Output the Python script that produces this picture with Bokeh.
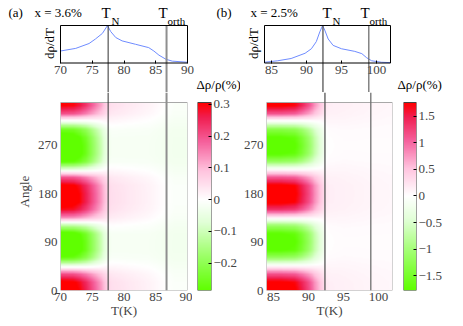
import numpy as np
from bokeh.plotting import figure
from bokeh.models import Range1d, LinearAxis, FixedTicker, Span, Label, LinearColorMapper
from bokeh.layouts import row, column
from bokeh.embed import file_html
from bokeh.resources import INLINE

FONT = "Liberation Serif"

# ---------------- data ----------------
# panel (a): x = 3.6 %
a_T_curve = [70, 72.4, 74.5, 75.5, 76.6, 77.4, 77.9, 78.7, 79.7, 81.8, 83.9, 84.7, 85.5, 86.6, 87.6, 90]
a_drho = [0.32, 0.39, 0.52, 0.64, 0.79, 1.0, 0.84, 0.68, 0.59, 0.50, 0.41, 0.32, 0.21, 0.10, 0.05, 0.02]
a_TN = 77.5
a_Torth = 86.7
a_T_range = [70, 90]
a_xticks = [70, 75, 80, 85, 90]
a_angles = [0, 15, 30, 45, 60, 75, 90, 105, 120, 135, 150, 165, 180, 195, 210, 225, 240, 255, 270, 285, 300, 315, 330, 345]
a_profile = [1.0, 0.95, 0.6, -0.1, -0.8, -1.0, -1.0, -0.95, -0.4, 0.4, 0.85, 1.0, 1.0, 0.95, 0.6, -0.15, -0.85, -1.0, -1.0, -0.95, -0.75, -0.1, 0.6, 0.9]
a_T_amp = [70, 72, 73, 74, 75, 76, 77, 77.5, 78, 80, 82, 84, 86, 88, 90]
a_amp = [0.34, 0.33, 0.30, 0.26, 0.20, 0.14, 0.08, 0.05, 0.035, 0.03, 0.025, 0.02, 0.015, 0.01, 0.01]
a_offset = [0.0, 0.0, 0.0, 0.0, 0.005, 0.01, 0.015, 0.015, 0.015, 0.01, 0.005, 0.0, -0.01, -0.02, -0.02]
a_cb_range = [-0.286, 0.306]
a_cb_ticks = [-0.2, -0.1, 0, 0.1, 0.2, 0.3]
a_cb_labels = ["\u22120.2", "\u22120.1", "0", "0.1", "0.2", "0.3"]

# panel (b): x = 2.5 %
b_T_curve = [84, 85.9, 87.8, 89.8, 90.7, 91.4, 91.9, 92.3, 92.6, 93.1, 93.8, 95, 96.9, 97.9, 98.6, 99.3, 100.7, 102]
b_drho = [0.02, 0.06, 0.12, 0.26, 0.38, 0.57, 0.83, 1.0, 0.88, 0.64, 0.47, 0.38, 0.31, 0.25, 0.14, 0.06, 0.02, 0.01]
b_TN = 92.35
b_Torth = 98.9
b_T_range = [84, 102]
b_xticks = [85, 90, 95, 100]
b_angles = [0, 15, 30, 45, 60, 75, 90, 105, 120, 135, 150, 165, 180, 195, 210, 225, 240, 255, 270, 285, 300, 315, 330, 345]
b_profile = [1.0, 0.95, 0.6, 0.03, -0.6, -0.95, -1.0, -0.95, -0.6, 0.05, 0.7, 0.97, 1.0, 0.97, 0.6, 0.02, -0.6, -0.95, -1.0, -0.95, -0.7, -0.08, 0.6, 0.95]
b_T_amp = [84, 86, 88, 89, 90, 91, 92, 92.5, 93, 95, 97, 99, 102]
b_amp = [1.9, 1.9, 1.8, 1.55, 1.2, 0.75, 0.35, 0.12, 0.07, 0.05, 0.04, 0.03, 0.02]
b_offset = [0.0, 0.0, 0.0, 0.0, 0.02, 0.04, 0.06, 0.08, 0.08, 0.08, 0.07, 0.06, 0.05]
b_cb_range = [-1.78, 1.76]
b_cb_ticks = [-1.5, -1, -0.5, 0, 0.5, 1, 1.5]
b_cb_labels = ["\u22121.5", "\u22121", "\u22120.5", "0", "0.5", "1", "1.5"]

angle_range = [0, 350]
angle_ticks = [0, 90, 180, 270]

# ---------------- styling helpers ----------------
GREEN = [(0.0, (255, 255, 255)), (0.25, (225, 255, 215)), (0.6, (160, 255, 110)), (1.0, (95, 255, 0))]
RED = [(0.0, (255, 255, 255)), (0.3, (255, 195, 222)), (0.6, (245, 95, 155)), (0.85, (240, 30, 80)), (1.0, (255, 0, 0))]


def ramp(anchors, t):
    ts = [a[0] for a in anchors]
    return tuple(int(round(np.interp(t, ts, [a[1][k] for a in anchors]))) for k in range(3))


def make_mapper(lo, hi, n=256):
    pal = []
    for v in np.linspace(lo, hi, n):
        rgb = ramp(GREEN, v / lo) if v < 0 else ramp(RED, v / hi)
        pal.append("#%02x%02x%02x" % rgb)
    return LinearColorMapper(palette=pal, low=lo, high=hi)


TOP_H = 92           # height of the upper figure (its frame fills it)
GAP = 10             # white strip above the map, inside the lower frames
BOX_TOP = 25.0       # page y of the top of the dρ/dT box
BOX_BOT = 62.5       # page y of its bottom
MAP_H = 188
BOTTOM = 34


def panel(T_curve, drho, TN, Torth, T_range, xticks, angles, profile, T_amp, amp, offset,
          cb_range, cb_ticks, cb_labels, page_x, width, left, fw, heat_right, cb_left, cb_w,
          with_angle_label, tn_style, to_style):
    x0, x1 = T_range
    # upper figure: its frame covers the whole canvas, the box is drawn inside
    per_px = (x1 - x0) / fw
    xr0 = x0 - left * per_px
    xr1 = x0 + (width - left) * per_px
    box_px = BOX_BOT - BOX_TOP
    yr1 = BOX_BOT / box_px
    yr0 = (BOX_BOT - TOP_H) / box_px
    top = figure(x_range=Range1d(xr0, xr1), y_range=Range1d(yr0, yr1), frame_width=width, frame_height=TOP_H,
                 min_border=0, x_axis_location=None, y_axis_location=None,
                 toolbar_location=None, output_backend="svg")
    top.grid.visible = False
    top.outline_line_color = None
    top.line(T_curve, drho, line_color="#6f8cff", line_width=1)
    top.segment(x0=[TN], y0=[1], x1=[TN], y1=[yr0], **tn_style)
    top.segment(x0=[Torth], y0=[1], x1=[Torth], y1=[yr0], **to_style)
    top.quad(left=[x0], right=[x1], bottom=[0], top=[1], fill_color=None, line_color="black", line_width=1)
    below = LinearAxis(fixed_location=0, ticker=FixedTicker(ticks=xticks), major_tick_in=3, major_tick_out=0,
                       minor_tick_line_color=None, axis_line_color=None, major_label_text_font=FONT,
                       major_label_text_font_size="13px", major_label_standoff=3)
    top.add_layout(below, "below")

    def put(text, X, Y, size="13px", align="left", angle=0.0):
        x = xr0 + (X - page_x) * per_px
        y = (BOX_BOT - Y) / box_px
        top.add_layout(Label(x=x, y=y, text=text, text_font=FONT, text_font_size=size, text_align=align,
                             text_baseline="middle", angle=angle, text_color="black"))

    # --- map ---
    mapper = make_mapper(*cb_range)
    a0, a1 = angle_range
    tt = np.linspace(x0, x1, 260)
    aa = np.linspace(a0, a1, 260)
    A = np.interp(tt, T_amp, amp)
    B = np.interp(tt, T_amp, offset)
    P = np.interp(aa, angles, profile)
    field = P[:, None] * A[None, :] + B[None, :]
    a_top = a1 + (a1 - a0) * GAP / MAP_H
    heat = figure(x_range=Range1d(x0, x1), y_range=Range1d(a0, a_top), frame_width=fw, frame_height=MAP_H + GAP,
                  min_border_left=left, min_border_right=heat_right, min_border_top=0, min_border_bottom=BOTTOM,
                  toolbar_location=None, output_backend="svg")
    heat.grid.visible = False
    heat.outline_line_color = None
    heat.image(image=[field], x=x0, y=a0, dw=x1 - x0, dh=a1 - a0, color_mapper=mapper)
    heat.quad(left=[x0], right=[x1], bottom=[a0], top=[a1], fill_color=None, line_color="#a8a8a8", line_width=1)
    heat.add_layout(Span(location=TN, dimension="height", **tn_style))
    heat.add_layout(Span(location=Torth, dimension="height", **to_style))
    heat.xaxis.ticker = FixedTicker(ticks=xticks)
    heat.yaxis.ticker = FixedTicker(ticks=angle_ticks)
    for ax in (heat.xaxis[0], heat.yaxis[0]):
        ax.axis_line_color = None
        ax.major_tick_line_color = None
        ax.major_tick_out = 0
        ax.major_tick_in = 0
        ax.minor_tick_line_color = None
        ax.minor_tick_out = 0
        ax.major_label_text_font = FONT
        ax.major_label_text_font_size = "13px"
        ax.axis_label_text_font = FONT
        ax.axis_label_text_font_size = "13px"
        ax.axis_label_text_font_style = "normal"
    heat.xaxis.major_label_standoff = 2
    heat.xaxis.axis_label = "T(K)"
    heat.xaxis.axis_label_standoff = -1
    heat.yaxis.major_label_standoff = 3
    if with_angle_label:
        heat.yaxis.axis_label = "Angle"
        heat.yaxis.axis_label_standoff = 3

    # --- colour bar (same frame height as the map, bar drawn below the white strip) ---
    lo, hi = cb_range
    heat_w = left + fw + heat_right
    cb_right = width - heat_w - cb_left - cb_w
    cb_top = hi + (hi - lo) * GAP / MAP_H
    cb = figure(x_range=Range1d(0, 1), y_range=Range1d(lo, cb_top), frame_width=cb_w, frame_height=MAP_H + GAP,
                min_border_left=cb_left, min_border_right=cb_right, min_border_top=0, min_border_bottom=BOTTOM,
                x_axis_location=None, y_axis_location="right", toolbar_location=None, output_backend="svg")
    cb.grid.visible = False
    cb.outline_line_color = None
    cb.image(image=[np.linspace(lo, hi, 256).reshape(-1, 1)], x=0, y=lo, dw=1, dh=hi - lo, color_mapper=mapper)
    cb.quad(left=[0], right=[1], bottom=[lo], top=[hi], fill_color=None, line_color="#444444", line_width=1)
    ya = cb.yaxis[0]
    ya.ticker = FixedTicker(ticks=cb_ticks)
    ya.major_label_overrides = {t: s for t, s in zip(cb_ticks, cb_labels)}
    ya.axis_line_color = None
    ya.major_tick_in = 3
    ya.major_tick_out = 0
    ya.minor_tick_line_color = None
    ya.minor_tick_out = 0
    ya.major_label_standoff = 2
    ya.major_label_text_font = FONT
    ya.major_label_text_font_size = "13px"
    return top, heat, cb, put


tn_a = dict(line_color="#303030", line_width=1)
to_a = dict(line_color="#8f8f8f", line_width=2)
tn_b = dict(line_color="#555555", line_width=1.3)
to_b = dict(line_color="#707070", line_width=1.3)

# panel (a): page x 0..240, frame 60..187
top_a, heat_a, cb_a, put_a = panel(a_T_curve, a_drho, a_TN, a_Torth, a_T_range, a_xticks, a_angles, a_profile,
                                   a_T_amp, a_amp, a_offset, a_cb_range, a_cb_ticks, a_cb_labels,
                                   page_x=0, width=240, left=60, fw=127, heat_right=5, cb_left=5, cb_w=14,
                                   with_angle_label=True, tn_style=tn_a, to_style=to_a)
# panel (b): page x 240..463, frame 264..390
top_b, heat_b, cb_b, put_b = panel(b_T_curve, b_drho, b_TN, b_Torth, b_T_range, b_xticks, b_angles, b_profile,
                                   b_T_amp, b_amp, b_offset, b_cb_range, b_cb_ticks, b_cb_labels,
                                   page_x=240, width=223, left=24, fw=126, heat_right=5, cb_left=6, cb_w=13,
                                   with_angle_label=False, tn_style=tn_b, to_style=to_b)

put_a("(a)", 8, 12)
put_a("x = 3.6%", 34, 12)
put_a("T", 101, 12, size="15px")
put_a("N", 111, 20, size="11px")
put_a("T", 158, 12, size="15px")
put_a("orth", 167, 20, size="11px")
put_a("d\u03c1/dT", 49, 43, align="center", angle=np.pi / 2)
put_a("\u0394\u03c1/\u03c1(%)", 196, 84)
put_a("(b)", 216, 12)

put_b("x = 2.5%", 250, 12)
put_b("T", 322, 12, size="15px")
put_b("N", 332, 20, size="11px")
put_b("T", 360, 12, size="15px")
put_b("orth", 369, 20, size="11px")
put_b("d\u03c1/dT", 253, 43, align="center", angle=np.pi / 2)
put_b("\u0394\u03c1/\u03c1(%)", 397, 84)

layout = row(column(top_a, row(heat_a, cb_a, spacing=0), spacing=0),
             column(top_b, row(heat_b, cb_b, spacing=0), spacing=0), spacing=0)

with open("out.html", "w") as f:
    f.write(file_html(layout, INLINE))
